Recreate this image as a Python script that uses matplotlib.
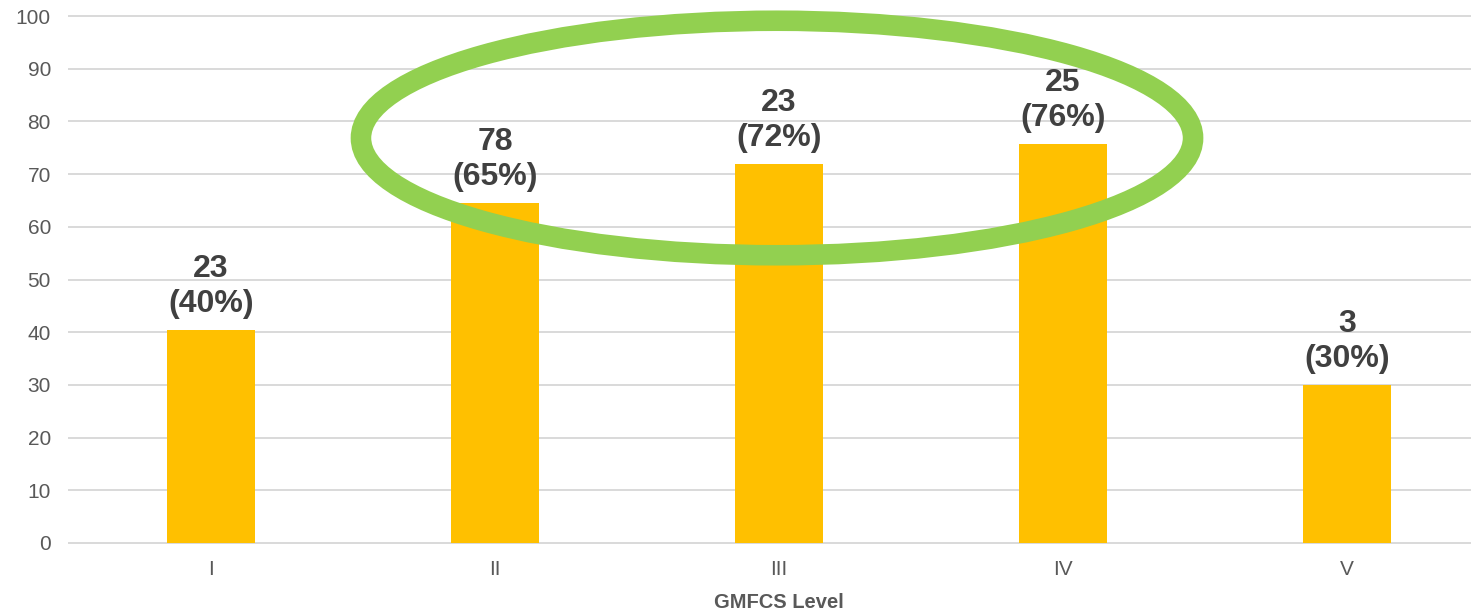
import matplotlib
matplotlib.use("Agg")
import matplotlib.pyplot as plt
from matplotlib.patches import Ellipse

# datos
levels = ["I", "II", "III", "IV", "V"]
values = [40.4, 64.5, 71.9, 75.7, 29.9]
counts = [23, 78, 23, 25, 3]
percents = [40, 65, 72, 76, 30]

plt.rcParams['font.family'] = ['Liberation Sans', 'DejaVu Sans']

fig = plt.figure(figsize=(14.71, 6.10), dpi=100)
ax = fig.add_axes([69 / 1471, 67 / 610, 1420 / 1471, 527 / 610])

x = list(range(len(levels)))
bars = ax.bar(x, values, width=0.313, color='#FFC000', zorder=2)

# etiquetas sobre cada barra
for xi, v, c, p in zip(x, values, counts, percents):
    ax.annotate(f"{c}\n({p}%)", (xi, v), xytext=(0, 8), textcoords='offset points',
                ha='center', va='bottom', fontsize=23, fontweight='bold',
                color='#404040', linespacing=1.22, zorder=5)

# elipse verde alrededor de II - IV
ell = Ellipse((1.993, 76.85), width=2.93, height=44.5, fill=False,
              edgecolor='#92D050', linewidth=14.8, zorder=4, clip_on=False)
ax.add_patch(ell)

ax.set_xlim(-0.5, 4.5)
ax.set_ylim(0, 100)
ax.set_yticks(range(0, 101, 10))
ax.set_xticks(x)
ax.set_xticklabels(levels)

for s in ax.spines.values():
    s.set_visible(False)
ax.tick_params(axis='both', length=0, labelsize=15, labelcolor='#595959')
ax.tick_params(axis='y', pad=13)
ax.tick_params(axis='x', pad=12.5)
ax.yaxis.grid(True, color='#d9d9d9', linewidth=1.4, zorder=0)
ax.set_axisbelow(True)
for gl in ax.get_ygridlines():
    gl.set_clip_on(False)

ax.set_xlabel("GMFCS Level", fontsize=14.5, fontweight='bold', color='#595959', labelpad=9.5)

fig.savefig("out.png", dpi=100)
